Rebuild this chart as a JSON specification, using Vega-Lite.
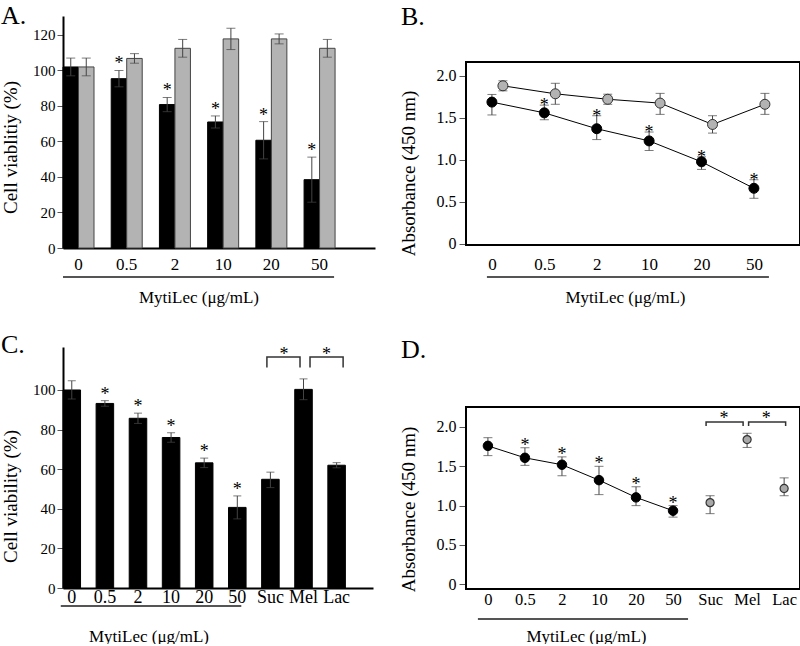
{
  "$schema": "https://vega.github.io/schema/vega-lite/v6.json",
  "padding": {"top": 3, "left": 0, "right": 0, "bottom": 0},
  "columns": 2,
  "spacing": {"row": 99, "column": 91},
  "bounds": "flush",
  "align": "each",
  "config": {
    "font": "Liberation Serif",
    "view": {"stroke": null},
    "axis": {"labelFont": "Liberation Serif", "titleFont": "Liberation Serif", "labelColor": "black", "titleColor": "black", "titleFontWeight": "normal", "grid": false, "labelOverlap": false},
    "title": {"font": "Liberation Serif", "fontWeight": "normal", "color": "black"},
    "text": {"font": "Liberation Serif", "color": "black"}
  },
  "concat": [
    {
      "width": 312, "height": 232,
      "title": {"text": "A.", "anchor": "start", "frame": "group", "dx": -62, "dy": 7, "offset": -27, "baseline": "alphabetic", "fontSize": 26, "font": "Liberation Serif"},
      "data": {"values": [
        {"c": "0", "s": "M", "v": 102, "lo": 97, "hi": 107, "star": 0},
        {"c": "0", "s": "C", "v": 102, "lo": 97, "hi": 107, "star": 0},
        {"c": "0.5", "s": "M", "v": 95.4, "lo": 90.8, "hi": 100, "star": 1},
        {"c": "0.5", "s": "C", "v": 106.8, "lo": 104.1, "hi": 109.5, "star": 0},
        {"c": "2", "s": "M", "v": 80.8, "lo": 76.8, "hi": 84.8, "star": 1},
        {"c": "2", "s": "C", "v": 112.5, "lo": 107.5, "hi": 117.5, "star": 0},
        {"c": "10", "s": "M", "v": 71, "lo": 67.6, "hi": 74.4, "star": 1},
        {"c": "10", "s": "C", "v": 117.8, "lo": 111.8, "hi": 123.8, "star": 0},
        {"c": "20", "s": "M", "v": 60.7, "lo": 50.2, "hi": 71.2, "star": 1},
        {"c": "20", "s": "C", "v": 117.8, "lo": 115, "hi": 120.6, "star": 0},
        {"c": "50", "s": "M", "v": 38.5, "lo": 25.8, "hi": 51.2, "star": 1},
        {"c": "50", "s": "C", "v": 112.5, "lo": 107.5, "hi": 117.5, "star": 0}
      ]},
      "layer": [
        {"mark": {"type": "bar", "strokeWidth": 1},
         "encoding": {
           "x": {"field": "c", "type": "nominal", "scale": {"domain": ["0","0.5","2","10","20","50"], "paddingInner": 0.357, "paddingOuter": 0.414, "align": 0},
                 "axis": {"title": "MytiLec (μg/mL)", "titleX": 135.5, "titleY": 49, "titleBaseline": "middle", "titleAlign": "center", "titleFontSize": 17, "titleFont": "Liberation Serif", "labelFont": "Liberation Serif", "labelFontSize": 17, "labelAngle": 0, "labelPadding": 8, "ticks": false, "domainColor": "black", "domainWidth": 2}},
           "xOffset": {"field": "s", "type": "nominal", "scale": {"domain": ["M","C"], "paddingInner": 0, "paddingOuter": 0}},
           "y": {"field": "v", "type": "quantitative", "scale": {"domain": [0, 130.7], "nice": false},
                 "axis": {"title": "Cell viablitiy (%)", "titleX": -53, "titleY": 131, "titleBaseline": "middle", "titleAlign": "center", "titleFontSize": 19, "titleFont": "Liberation Serif", "labelFont": "Liberation Serif", "values": [0,20,40,60,80,100,120], "tickCount": 7, "labelOverlap": false, "labelFontSize": 15, "labelPadding": 2, "tickSize": 6, "tickColor": "#555555", "domainColor": "black", "domainWidth": 2}},
           "fill": {"field": "s", "type": "nominal", "scale": {"domain": ["M","C"], "range": ["#000000","#b3b3b3"]}, "legend": null},
           "stroke": {"field": "s", "type": "nominal", "scale": {"domain": ["M","C"], "range": ["#000000","#444444"]}, "legend": null}
         }},
        {"mark": {"type": "rule", "color": "#444444", "strokeWidth": 1},
         "encoding": {
           "x": {"field": "c", "type": "nominal", "scale": {"domain": ["0","0.5","2","10","20","50"], "paddingInner": 0.357, "paddingOuter": 0.414, "align": 0}},
           "xOffset": {"field": "s", "type": "nominal", "scale": {"domain": ["M","C"], "paddingInner": 0, "paddingOuter": 0}},
           "y": {"field": "lo", "type": "quantitative", "scale": {"domain": [0, 130.7], "nice": false},
                 "axis": {"title": "Cell viablitiy (%)", "titleX": -53, "titleY": 131, "titleBaseline": "middle", "titleAlign": "center", "titleFontSize": 19, "values": [0,20,40,60,80,100,120], "tickCount": 7, "labelOverlap": false, "labelFontSize": 15, "labelPadding": 2, "tickSize": 6, "tickColor": "#555555", "domainColor": "black", "domainWidth": 2}},
           "y2": {"field": "hi"}
         }},
        {"transform": [{"fold": ["lo","hi"], "as": ["w","cap"]}],
         "mark": {"type": "tick", "color": "#444444", "thickness": 1, "size": 9},
         "encoding": {
           "x": {"field": "c", "type": "nominal", "scale": {"domain": ["0","0.5","2","10","20","50"], "paddingInner": 0.357, "paddingOuter": 0.414, "align": 0}},
           "xOffset": {"field": "s", "type": "nominal", "scale": {"domain": ["M","C"], "paddingInner": 0, "paddingOuter": 0}},
           "y": {"field": "cap", "type": "quantitative", "scale": {"domain": [0, 130.7], "nice": false},
                 "axis": {"title": "Cell viablitiy (%)", "titleX": -53, "titleY": 131, "titleBaseline": "middle", "titleAlign": "center", "titleFontSize": 19, "values": [0,20,40,60,80,100,120], "tickCount": 7, "labelOverlap": false, "labelFontSize": 15, "labelPadding": 2, "tickSize": 6, "tickColor": "#555555", "domainColor": "black", "domainWidth": 2}}
         }},
        {"transform": [{"filter": "datum.star == 1"}],
         "mark": {"type": "text", "text": "*", "fontSize": 18, "baseline": "alphabetic", "align": "center", "dy": -1, "color": "black", "fill": "black"},
         "encoding": {
           "x": {"field": "c", "type": "nominal", "scale": {"domain": ["0","0.5","2","10","20","50"], "paddingInner": 0.357, "paddingOuter": 0.414, "align": 0}},
           "xOffset": {"field": "s", "type": "nominal", "scale": {"domain": ["M","C"], "paddingInner": 0, "paddingOuter": 0}},
           "y": {"field": "hi", "type": "quantitative", "scale": {"domain": [0, 130.7], "nice": false},
                 "axis": {"title": "Cell viablitiy (%)", "titleX": -53, "titleY": 131, "titleBaseline": "middle", "titleAlign": "center", "titleFontSize": 19, "values": [0,20,40,60,80,100,120], "tickCount": 7, "labelOverlap": false, "labelFontSize": 15, "labelPadding": 2, "tickSize": 6, "tickColor": "#555555", "domainColor": "black", "domainWidth": 2}}
         }},
        {"data": {"values": [{}]},
         "mark": {"type": "rule", "color": "#555555", "strokeWidth": 2, "xOffset": -15.5, "x2Offset": 14.5},
         "encoding": {
           "x": {"datum": "0", "type": "nominal", "scale": {"domain": ["0","0.5","2","10","20","50"], "paddingInner": 0.357, "paddingOuter": 0.414, "align": 0}},
           "x2": {"datum": "50"},
           "y": {"datum": -16.3, "type": "quantitative", "scale": {"domain": [0, 130.7], "nice": false},
                 "axis": {"title": "Cell viablitiy (%)", "titleX": -53, "titleY": 131, "titleBaseline": "middle", "titleAlign": "center", "titleFontSize": 19, "values": [0,20,40,60,80,100,120], "tickCount": 7, "labelOverlap": false, "labelFontSize": 15, "labelPadding": 2, "tickSize": 6, "tickColor": "#555555", "domainColor": "black", "domainWidth": 2}}
         }}
      ]
    },
    {
      "width": 334, "height": 229,
      "title": {"text": "B.", "anchor": "start", "frame": "group", "dx": -65, "dy": 7.5, "offset": -27, "baseline": "alphabetic", "fontSize": 26, "font": "Liberation Serif"},
      "data": {"values": [
        {"c": "0", "s": "M", "v": 1.686, "lo": 1.533, "hi": 1.777, "star": 0},
        {"c": "0.5", "s": "M", "v": 1.558, "lo": 1.476, "hi": 1.65, "star": 1},
        {"c": "2", "s": "M", "v": 1.369, "lo": 1.24, "hi": 1.524, "star": 1},
        {"c": "10", "s": "M", "v": 1.224, "lo": 1.11, "hi": 1.33, "star": 1},
        {"c": "20", "s": "M", "v": 0.975, "lo": 0.885, "hi": 1.034, "star": 1},
        {"c": "50", "s": "M", "v": 0.66, "lo": 0.541, "hi": 0.762, "star": 1},
        {"c": "0", "s": "C", "v": 1.88, "lo": 1.82, "hi": 1.94, "star": 0},
        {"c": "0.5", "s": "C", "v": 1.785, "lo": 1.66, "hi": 1.91, "star": 0},
        {"c": "2", "s": "C", "v": 1.72, "lo": 1.66, "hi": 1.78, "star": 0},
        {"c": "10", "s": "C", "v": 1.674, "lo": 1.54, "hi": 1.79, "star": 0},
        {"c": "20", "s": "C", "v": 1.42, "lo": 1.317, "hi": 1.524, "star": 0},
        {"c": "50", "s": "C", "v": 1.66, "lo": 1.54, "hi": 1.79, "star": 0}
      ]},
      "layer": [
        {"data": {"values": [{}]},
         "mark": {"type": "rect", "fill": "transparent", "stroke": "black", "strokeWidth": 2},
         "encoding": {
           "y": {"datum": -0.015, "type": "quantitative", "scale": {"domain": [-0.015, 2.711], "nice": false, "zero": false}},
           "y2": {"datum": 2.163}
         }},
        {"transform": [{"filter": "datum.s == 'M'"}],
         "mark": {"type": "line", "color": "black", "strokeWidth": 1},
         "encoding": {
           "x": {"field": "c", "type": "nominal", "scale": {"type": "point", "domain": ["0","0.5","2","10","20","50"], "padding": 0.687, "align": 0.36},
                 "axis": {"title": "MytiLec (μg/mL)", "titleX": 159, "titleY": 52, "titleBaseline": "middle", "titleAlign": "center", "titleFontSize": 17, "titleFont": "Liberation Serif", "labelFont": "Liberation Serif", "labelFontSize": 17, "labelAngle": 0, "labelPadding": 11, "ticks": false, "domain": false}},
           "y": {"field": "v", "type": "quantitative", "scale": {"domain": [-0.015, 2.711], "nice": false, "zero": false},
                 "axis": {"title": "Absorbance (450 nm)", "titleX": -58, "titleY": 157, "titleBaseline": "middle", "titleAlign": "center", "titleFontSize": 19, "titleFont": "Liberation Serif", "labelFont": "Liberation Serif", "values": [0, 0.5, 1, 1.5, 2], "labelOverlap": false, "labelExpr": "datum.value == 0 ? '0' : format(datum.value, '.1f')", "labelFontSize": 16, "labelPadding": 3, "tickSize": 7, "tickColor": "#555555", "domain": false}}
         }},
        {"transform": [{"filter": "datum.s == 'C'"}],
         "mark": {"type": "line", "color": "black", "strokeWidth": 1, "xOffset": 11},
         "encoding": {
           "x": {"field": "c", "type": "nominal", "scale": {"type": "point", "domain": ["0","0.5","2","10","20","50"], "padding": 0.687, "align": 0.36}},
           "y": {"field": "v", "type": "quantitative", "scale": {"domain": [-0.015, 2.711], "nice": false, "zero": false}}
         }},
        {"transform": [{"filter": "datum.s == 'M'"}],
         "mark": {"type": "rule", "color": "#444444", "strokeWidth": 1},
         "encoding": {
           "x": {"field": "c", "type": "nominal", "scale": {"type": "point", "domain": ["0","0.5","2","10","20","50"], "padding": 0.687, "align": 0.36}},
           "y": {"field": "lo", "type": "quantitative", "scale": {"domain": [-0.015, 2.711], "nice": false, "zero": false}},
           "y2": {"field": "hi"}
         }},
        {"transform": [{"filter": "datum.s == 'C'"}],
         "mark": {"type": "rule", "color": "#444444", "strokeWidth": 1, "xOffset": 11},
         "encoding": {
           "x": {"field": "c", "type": "nominal", "scale": {"type": "point", "domain": ["0","0.5","2","10","20","50"], "padding": 0.687, "align": 0.36}},
           "y": {"field": "lo", "type": "quantitative", "scale": {"domain": [-0.015, 2.711], "nice": false, "zero": false}},
           "y2": {"field": "hi"}
         }},
        {"transform": [{"filter": "datum.s == 'M'"}, {"fold": ["lo","hi"], "as": ["w","cap"]}],
         "mark": {"type": "tick", "color": "#444444", "thickness": 1, "size": 9},
         "encoding": {
           "x": {"field": "c", "type": "nominal", "scale": {"type": "point", "domain": ["0","0.5","2","10","20","50"], "padding": 0.687, "align": 0.36}},
           "y": {"field": "cap", "type": "quantitative", "scale": {"domain": [-0.015, 2.711], "nice": false, "zero": false}}
         }},
        {"transform": [{"filter": "datum.s == 'C'"}, {"fold": ["lo","hi"], "as": ["w","cap"]}],
         "mark": {"type": "tick", "color": "#444444", "thickness": 1, "size": 9, "xOffset": 11},
         "encoding": {
           "x": {"field": "c", "type": "nominal", "scale": {"type": "point", "domain": ["0","0.5","2","10","20","50"], "padding": 0.687, "align": 0.36}},
           "y": {"field": "cap", "type": "quantitative", "scale": {"domain": [-0.015, 2.711], "nice": false, "zero": false}}
         }},
        {"transform": [{"filter": "datum.s == 'M'"}],
         "mark": {"type": "point", "shape": "circle", "filled": true, "fill": "black", "stroke": "black", "strokeWidth": 1, "size": 100, "opacity": 1},
         "encoding": {
           "x": {"field": "c", "type": "nominal", "scale": {"type": "point", "domain": ["0","0.5","2","10","20","50"], "padding": 0.687, "align": 0.36}},
           "y": {"field": "v", "type": "quantitative", "scale": {"domain": [-0.015, 2.711], "nice": false, "zero": false}}
         }},
        {"transform": [{"filter": "datum.s == 'C'"}],
         "mark": {"type": "point", "shape": "circle", "filled": true, "fill": "#b3b3b3", "stroke": "#333333", "strokeWidth": 1, "size": 100, "opacity": 1, "xOffset": 11},
         "encoding": {
           "x": {"field": "c", "type": "nominal", "scale": {"type": "point", "domain": ["0","0.5","2","10","20","50"], "padding": 0.687, "align": 0.36}},
           "y": {"field": "v", "type": "quantitative", "scale": {"domain": [-0.015, 2.711], "nice": false, "zero": false}}
         }},
        {"transform": [{"filter": "datum.star == 1"}],
         "mark": {"type": "text", "text": "*", "fontSize": 18, "baseline": "alphabetic", "align": "center", "dy": 6, "color": "black", "fill": "black"},
         "encoding": {
           "x": {"field": "c", "type": "nominal", "scale": {"type": "point", "domain": ["0","0.5","2","10","20","50"], "padding": 0.687, "align": 0.36}},
           "y": {"field": "hi", "type": "quantitative", "scale": {"domain": [-0.015, 2.711], "nice": false, "zero": false}}
         }},
        {"data": {"values": [{}]},
         "mark": {"type": "rule", "color": "#555555", "strokeWidth": 2, "xOffset": -5, "x2Offset": 15},
         "encoding": {
           "x": {"datum": "0", "type": "nominal", "scale": {"type": "point", "domain": ["0","0.5","2","10","20","50"], "padding": 0.687, "align": 0.36}},
           "x2": {"datum": "50"},
           "y": {"datum": -0.396, "type": "quantitative", "scale": {"domain": [-0.015, 2.711], "nice": false, "zero": false}}
         }}
      ]
    },
    {
      "width": 310, "height": 241,
      "title": {"text": "C.", "anchor": "start", "frame": "group", "dx": -62, "dy": 6, "offset": -27, "baseline": "alphabetic", "fontSize": 26, "font": "Liberation Serif"},
      "data": {"values": [
        {"c": "0", "g": "M", "v": 100, "lo": 95.4, "hi": 104.6, "star": 0},
        {"c": "0.5", "g": "M", "v": 93.2, "lo": 91.8, "hi": 94.6, "star": 1},
        {"c": "2", "g": "M", "v": 85.7, "lo": 83.1, "hi": 88.3, "star": 1},
        {"c": "10", "g": "M", "v": 76, "lo": 73.6, "hi": 78.4, "star": 1},
        {"c": "20", "g": "M", "v": 63.2, "lo": 60.8, "hi": 65.6, "star": 1},
        {"c": "50", "g": "M", "v": 40.7, "lo": 34.9, "hi": 46.5, "star": 1},
        {"c": "Suc", "g": "S", "v": 54.9, "lo": 50.7, "hi": 58.5, "star": 0},
        {"c": "Mel", "g": "S", "v": 100.3, "lo": 95.1, "hi": 105.6, "star": 0},
        {"c": "Lac", "g": "S", "v": 62, "lo": 60.7, "hi": 63.3, "star": 0}
      ]},
      "layer": [
        {"mark": {"type": "bar", "strokeWidth": 1},
         "encoding": {
           "x": {"field": "c", "type": "nominal", "scale": {"domain": ["0","0.5","2","10","20","50","Suc","Mel","Lac"], "paddingInner": 0.47, "paddingOuter": 0.417, "align": 0},
                 "axis": {"title": "MytiLec (μg/mL)", "titleX": 85.5, "titleY": 48, "titleBaseline": "middle", "titleAlign": "center", "titleFontSize": 17, "titleFont": "Liberation Serif", "labelFont": "Liberation Serif", "labelFontSize": 18, "labelAngle": 0, "labelPadding": 0, "ticks": false, "domainColor": "black", "domainWidth": 2}},
           "y": {"field": "v", "type": "quantitative", "scale": {"domain": [0, 121.7], "nice": false},
                 "axis": {"title": "Cell viability (%)", "titleX": -53, "titleY": 149, "titleBaseline": "middle", "titleAlign": "center", "titleFontSize": 19, "titleFont": "Liberation Serif", "labelFont": "Liberation Serif", "values": [0,20,40,60,80,100], "labelOverlap": false, "labelFontSize": 15, "labelPadding": 2, "tickSize": 6, "tickColor": "#555555", "domainColor": "black", "domainWidth": 2}},
           "fill": {"field": "g", "type": "nominal", "scale": {"domain": ["M","S"], "range": ["#000000","#b0b0b0"]}, "legend": null},
           "stroke": {"field": "g", "type": "nominal", "scale": {"domain": ["M","S"], "range": ["#000000","#444444"]}, "legend": null}
         }},
        {"mark": {"type": "rule", "color": "#444444", "strokeWidth": 1},
         "encoding": {
           "x": {"field": "c", "type": "nominal", "scale": {"domain": ["0","0.5","2","10","20","50","Suc","Mel","Lac"], "paddingInner": 0.47, "paddingOuter": 0.417, "align": 0}},
           "y": {"field": "lo", "type": "quantitative", "scale": {"domain": [0, 121.7], "nice": false}},
           "y2": {"field": "hi"}
         }},
        {"transform": [{"fold": ["lo","hi"], "as": ["w","cap"]}],
         "mark": {"type": "tick", "color": "#444444", "thickness": 1, "size": 8},
         "encoding": {
           "x": {"field": "c", "type": "nominal", "scale": {"domain": ["0","0.5","2","10","20","50","Suc","Mel","Lac"], "paddingInner": 0.47, "paddingOuter": 0.417, "align": 0}},
           "y": {"field": "cap", "type": "quantitative", "scale": {"domain": [0, 121.7], "nice": false}}
         }},
        {"transform": [{"filter": "datum.star == 1"}],
         "mark": {"type": "text", "text": "*", "fontSize": 18, "baseline": "alphabetic", "align": "center", "dy": -1, "color": "black", "fill": "black"},
         "encoding": {
           "x": {"field": "c", "type": "nominal", "scale": {"domain": ["0","0.5","2","10","20","50","Suc","Mel","Lac"], "paddingInner": 0.47, "paddingOuter": 0.417, "align": 0}},
           "y": {"field": "hi", "type": "quantitative", "scale": {"domain": [0, 121.7], "nice": false}}
         }},
        {"data": {"values": [
           {"b": 1, "c": "Suc", "y": 111.3, "k": 1}, {"b": 1, "c": "Suc", "y": 116.7, "k": 2},
           {"b": 1, "c": "Mel", "y": 116.7, "k": 3}, {"b": 1, "c": "Mel", "y": 111.3, "k": 4}]},
         "mark": {"type": "line", "color": "#333333", "strokeWidth": 1.5, "xOffset": -3.5},
         "encoding": {
           "x": {"field": "c", "type": "nominal", "scale": {"domain": ["0","0.5","2","10","20","50","Suc","Mel","Lac"], "paddingInner": 0.47, "paddingOuter": 0.417, "align": 0}},
           "y": {"field": "y", "type": "quantitative", "scale": {"domain": [0, 121.7], "nice": false}},
           "order": {"field": "k", "type": "quantitative"}
         }},
        {"data": {"values": [
           {"b": 2, "c": "Mel", "y": 111.3, "k": 1}, {"b": 2, "c": "Mel", "y": 116.7, "k": 2},
           {"b": 2, "c": "Lac", "y": 116.7, "k": 3}, {"b": 2, "c": "Lac", "y": 111.3, "k": 4}]},
         "mark": {"type": "line", "color": "#333333", "strokeWidth": 1.5, "xOffset": 6.5},
         "encoding": {
           "x": {"field": "c", "type": "nominal", "scale": {"domain": ["0","0.5","2","10","20","50","Suc","Mel","Lac"], "paddingInner": 0.47, "paddingOuter": 0.417, "align": 0}},
           "y": {"field": "y", "type": "quantitative", "scale": {"domain": [0, 121.7], "nice": false}},
           "order": {"field": "k", "type": "quantitative"}
         }},
        {"data": {"values": [{"c": "Suc", "y": 116.7}]},
         "mark": {"type": "text", "text": "*", "fontSize": 18, "baseline": "alphabetic", "align": "center", "dy": 3, "xOffset": 13.5, "color": "black", "fill": "black"},
         "encoding": {
           "x": {"field": "c", "type": "nominal", "scale": {"domain": ["0","0.5","2","10","20","50","Suc","Mel","Lac"], "paddingInner": 0.47, "paddingOuter": 0.417, "align": 0}},
           "y": {"field": "y", "type": "quantitative", "scale": {"domain": [0, 121.7], "nice": false}}
         }},
        {"data": {"values": [{"c": "Lac", "y": 116.7}]},
         "mark": {"type": "text", "text": "*", "fontSize": 18, "baseline": "alphabetic", "align": "center", "dy": 3, "xOffset": -10, "color": "black", "fill": "black"},
         "encoding": {
           "x": {"field": "c", "type": "nominal", "scale": {"domain": ["0","0.5","2","10","20","50","Suc","Mel","Lac"], "paddingInner": 0.47, "paddingOuter": 0.417, "align": 0}},
           "y": {"field": "y", "type": "quantitative", "scale": {"domain": [0, 121.7], "nice": false}}
         }},
        {"data": {"values": [{}]},
         "mark": {"type": "rule", "color": "#555555", "strokeWidth": 2, "xOffset": -11, "x2Offset": 4},
         "encoding": {
           "x": {"datum": "0", "type": "nominal", "scale": {"domain": ["0","0.5","2","10","20","50","Suc","Mel","Lac"], "paddingInner": 0.47, "paddingOuter": 0.417, "align": 0}},
           "x2": {"datum": "50"},
           "y": {"datum": -9.1, "type": "quantitative", "scale": {"domain": [0, 121.7], "nice": false}}
         }}
      ]
    },
    {
      "width": 334, "height": 242,
      "title": {"text": "D.", "anchor": "start", "frame": "group", "dx": -65, "dy": 10, "offset": -27, "baseline": "alphabetic", "fontSize": 26, "font": "Liberation Serif"},
      "data": {"values": [
        {"c": "0", "g": "M", "v": 1.76, "lo": 1.636, "hi": 1.864, "star": 0},
        {"c": "0.5", "g": "M", "v": 1.608, "lo": 1.512, "hi": 1.736, "star": 1},
        {"c": "2", "g": "M", "v": 1.52, "lo": 1.38, "hi": 1.62, "star": 1},
        {"c": "10", "g": "M", "v": 1.324, "lo": 1.14, "hi": 1.5, "star": 1},
        {"c": "20", "g": "M", "v": 1.105, "lo": 1.0, "hi": 1.24, "star": 1},
        {"c": "50", "g": "M", "v": 0.935, "lo": 0.854, "hi": 1.0, "star": 1},
        {"c": "Suc", "g": "S", "v": 1.038, "lo": 0.898, "hi": 1.126, "star": 0},
        {"c": "Mel", "g": "S", "v": 1.84, "lo": 1.74, "hi": 1.92, "star": 0},
        {"c": "Lac", "g": "S", "v": 1.218, "lo": 1.126, "hi": 1.353, "star": 0}
      ]},
      "layer": [
        {"data": {"values": [{}]},
         "mark": {"type": "rect", "fill": "transparent", "stroke": "black", "strokeWidth": 2},
         "encoding": {
           "y": {"datum": -0.06, "type": "quantitative", "scale": {"domain": [-0.06, 3.017], "nice": false, "zero": false}},
           "y2": {"datum": 2.254}
         }},
        {"transform": [{"filter": "datum.g == 'M'"}],
         "mark": {"type": "line", "color": "black", "strokeWidth": 1},
         "encoding": {
           "x": {"field": "c", "type": "nominal", "scale": {"type": "point", "domain": ["0","0.5","2","10","20","50","Suc","Mel","Lac"], "padding": 0.51, "align": 0.58},
                 "axis": {"title": "MytiLec (μg/mL)", "titleX": 120, "titleY": 47, "titleBaseline": "middle", "titleAlign": "center", "titleFontSize": 17, "titleFont": "Liberation Serif", "labelFont": "Liberation Serif", "labelFontSize": 16.5, "labelAngle": 0, "labelPadding": 2, "ticks": false, "domain": false}},
           "y": {"field": "v", "type": "quantitative", "scale": {"domain": [-0.06, 3.017], "nice": false, "zero": false},
                 "axis": {"title": "Absorbance (450 nm)", "titleX": -58, "titleY": 162, "titleBaseline": "middle", "titleAlign": "center", "titleFontSize": 19, "titleFont": "Liberation Serif", "labelFont": "Liberation Serif", "values": [0, 0.5, 1, 1.5, 2], "labelOverlap": false, "labelExpr": "datum.value == 0 ? '0' : format(datum.value, '.1f')", "labelFontSize": 16, "labelPadding": 3, "tickSize": 7, "tickColor": "#555555", "domain": false}}
         }},
        {"mark": {"type": "rule", "color": "#444444", "strokeWidth": 1},
         "encoding": {
           "x": {"field": "c", "type": "nominal", "scale": {"type": "point", "domain": ["0","0.5","2","10","20","50","Suc","Mel","Lac"], "padding": 0.51, "align": 0.58}},
           "y": {"field": "lo", "type": "quantitative", "scale": {"domain": [-0.06, 3.017], "nice": false, "zero": false}},
           "y2": {"field": "hi"}
         }},
        {"transform": [{"fold": ["lo","hi"], "as": ["w","cap"]}],
         "mark": {"type": "tick", "color": "#444444", "thickness": 1, "size": 9},
         "encoding": {
           "x": {"field": "c", "type": "nominal", "scale": {"type": "point", "domain": ["0","0.5","2","10","20","50","Suc","Mel","Lac"], "padding": 0.51, "align": 0.58}},
           "y": {"field": "cap", "type": "quantitative", "scale": {"domain": [-0.06, 3.017], "nice": false, "zero": false}}
         }},
        {"transform": [{"filter": "datum.g == 'M'"}],
         "mark": {"type": "point", "shape": "circle", "filled": true, "fill": "black", "stroke": "black", "strokeWidth": 1, "size": 90, "opacity": 1},
         "encoding": {
           "x": {"field": "c", "type": "nominal", "scale": {"type": "point", "domain": ["0","0.5","2","10","20","50","Suc","Mel","Lac"], "padding": 0.51, "align": 0.58}},
           "y": {"field": "v", "type": "quantitative", "scale": {"domain": [-0.06, 3.017], "nice": false, "zero": false}}
         }},
        {"transform": [{"filter": "datum.g == 'S'"}],
         "mark": {"type": "point", "shape": "circle", "filled": true, "fill": "#a8a8a8", "stroke": "#333333", "strokeWidth": 1.2, "size": 65, "opacity": 1},
         "encoding": {
           "x": {"field": "c", "type": "nominal", "scale": {"type": "point", "domain": ["0","0.5","2","10","20","50","Suc","Mel","Lac"], "padding": 0.51, "align": 0.58}},
           "y": {"field": "v", "type": "quantitative", "scale": {"domain": [-0.06, 3.017], "nice": false, "zero": false}}
         }},
        {"transform": [{"filter": "datum.star == 1"}],
         "mark": {"type": "text", "text": "*", "fontSize": 18, "baseline": "alphabetic", "align": "center", "dy": 3, "color": "black", "fill": "black"},
         "encoding": {
           "x": {"field": "c", "type": "nominal", "scale": {"type": "point", "domain": ["0","0.5","2","10","20","50","Suc","Mel","Lac"], "padding": 0.51, "align": 0.58}},
           "y": {"field": "hi", "type": "quantitative", "scale": {"domain": [-0.06, 3.017], "nice": false, "zero": false}}
         }},
        {"data": {"values": [
           {"b": 1, "c": "Suc", "y": 2.013, "k": 1}, {"b": 1, "c": "Suc", "y": 2.064, "k": 2},
           {"b": 1, "c": "Mel", "y": 2.064, "k": 3}, {"b": 1, "c": "Mel", "y": 2.013, "k": 4}]},
         "mark": {"type": "line", "color": "#333333", "strokeWidth": 1.5, "xOffset": -4},
         "encoding": {
           "x": {"field": "c", "type": "nominal", "scale": {"type": "point", "domain": ["0","0.5","2","10","20","50","Suc","Mel","Lac"], "padding": 0.51, "align": 0.58}},
           "y": {"field": "y", "type": "quantitative", "scale": {"domain": [-0.06, 3.017], "nice": false, "zero": false}},
           "order": {"field": "k", "type": "quantitative"}
         }},
        {"data": {"values": [
           {"b": 2, "c": "Mel", "y": 2.013, "k": 1}, {"b": 2, "c": "Mel", "y": 2.064, "k": 2},
           {"b": 2, "c": "Lac", "y": 2.064, "k": 3}, {"b": 2, "c": "Lac", "y": 2.013, "k": 4}]},
         "mark": {"type": "line", "color": "#333333", "strokeWidth": 1.5, "xOffset": 1.5},
         "encoding": {
           "x": {"field": "c", "type": "nominal", "scale": {"type": "point", "domain": ["0","0.5","2","10","20","50","Suc","Mel","Lac"], "padding": 0.51, "align": 0.58}},
           "y": {"field": "y", "type": "quantitative", "scale": {"domain": [-0.06, 3.017], "nice": false, "zero": false}},
           "order": {"field": "k", "type": "quantitative"}
         }},
        {"data": {"values": [{"c": "Suc", "y": 2.064}]},
         "mark": {"type": "text", "text": "*", "fontSize": 18, "baseline": "alphabetic", "align": "center", "dy": 2, "xOffset": 14, "color": "black", "fill": "black"},
         "encoding": {
           "x": {"field": "c", "type": "nominal", "scale": {"type": "point", "domain": ["0","0.5","2","10","20","50","Suc","Mel","Lac"], "padding": 0.51, "align": 0.58}},
           "y": {"field": "y", "type": "quantitative", "scale": {"domain": [-0.06, 3.017], "nice": false, "zero": false}}
         }},
        {"data": {"values": [{"c": "Lac", "y": 2.064}]},
         "mark": {"type": "text", "text": "*", "fontSize": 18, "baseline": "alphabetic", "align": "center", "dy": 2, "xOffset": -18, "color": "black", "fill": "black"},
         "encoding": {
           "x": {"field": "c", "type": "nominal", "scale": {"type": "point", "domain": ["0","0.5","2","10","20","50","Suc","Mel","Lac"], "padding": 0.51, "align": 0.58}},
           "y": {"field": "y", "type": "quantitative", "scale": {"domain": [-0.06, 3.017], "nice": false, "zero": false}}
         }},
        {"data": {"values": [{}]},
         "mark": {"type": "rule", "color": "#555555", "strokeWidth": 2, "xOffset": -10, "x2Offset": 15},
         "encoding": {
           "x": {"datum": "0", "type": "nominal", "scale": {"type": "point", "domain": ["0","0.5","2","10","20","50","Suc","Mel","Lac"], "padding": 0.51, "align": 0.58}},
           "x2": {"datum": "50"},
           "y": {"datum": -0.441, "type": "quantitative", "scale": {"domain": [-0.06, 3.017], "nice": false, "zero": false}}
         }}
      ]
    }
  ]
}
